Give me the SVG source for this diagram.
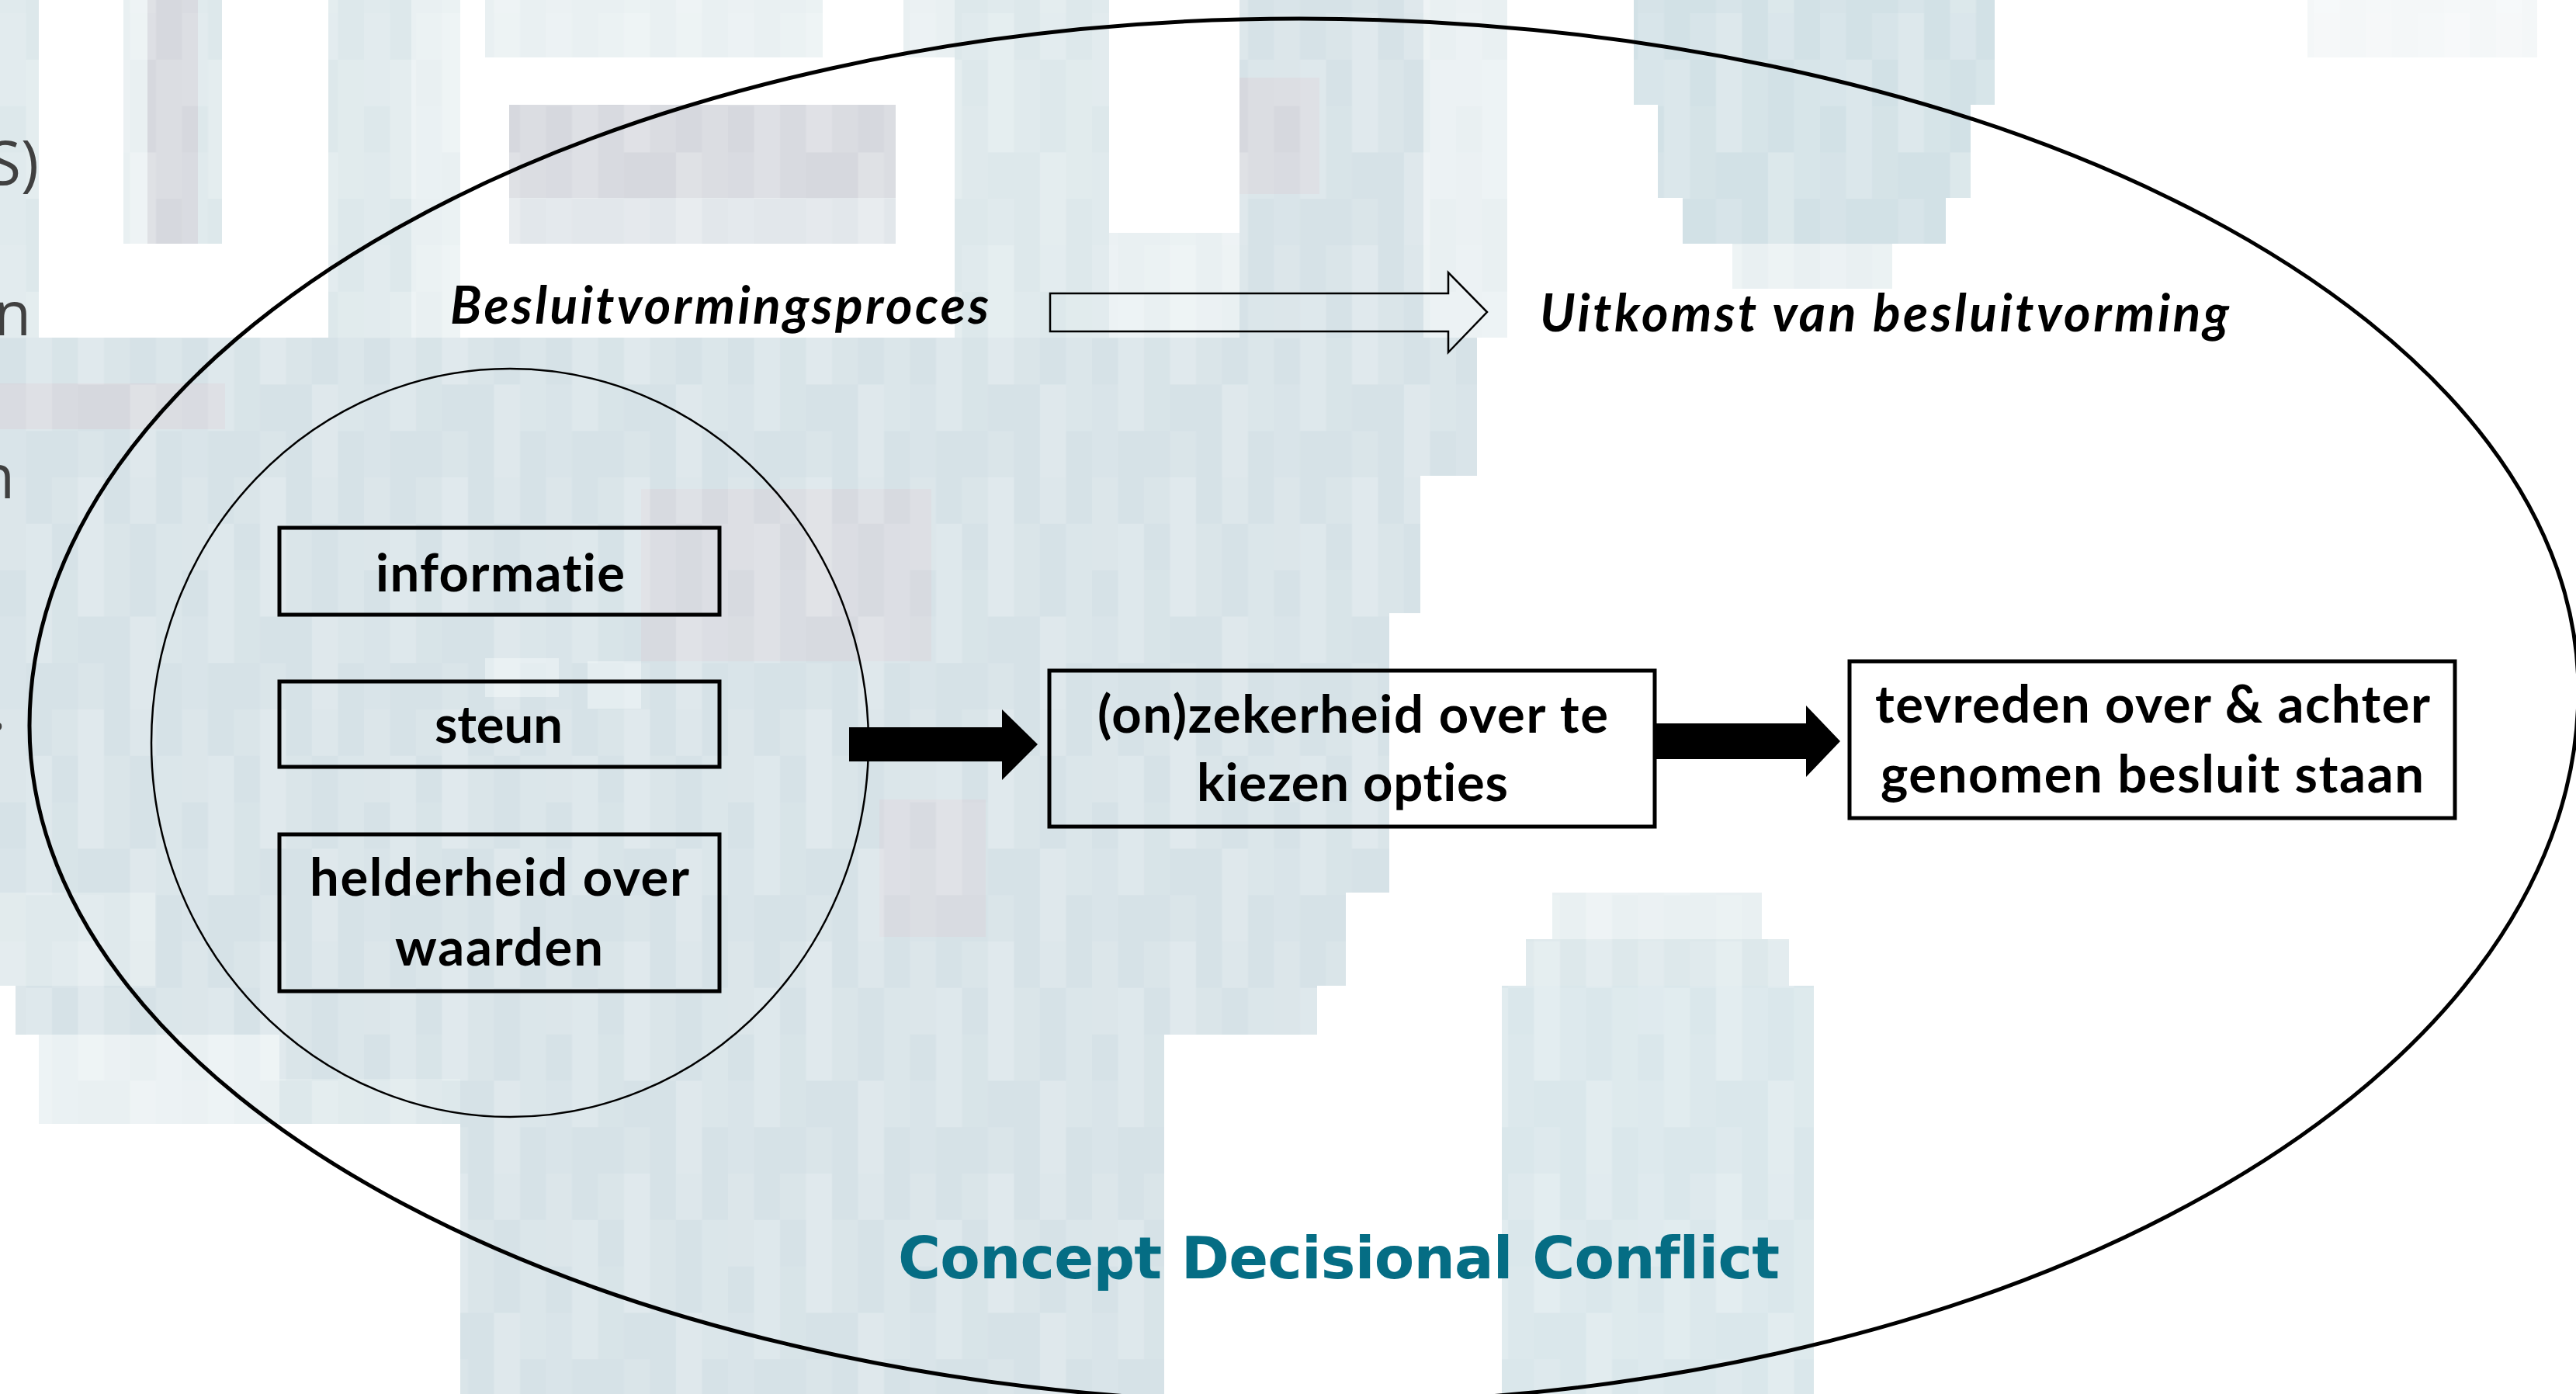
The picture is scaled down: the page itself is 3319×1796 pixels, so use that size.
<svg xmlns="http://www.w3.org/2000/svg" width="3319" height="1796" viewBox="0 0 3319 1796">
  <defs>
    <style>
      .bg-a { fill: #d6e2e7; }
      .bg-b { fill: #dde8eb; }
      .bg-c { fill: #d6d8de; }
      .bg-d { fill: #e9f0f2; }
      .bg-e { fill: #d2e1e6; }
      .frame { fill: none; stroke: #000; stroke-width: 5; }
      .box { fill: none; stroke: #000; stroke-width: 5; }
      .ring { fill: none; stroke: #000; stroke-width: 2.5; }
      .block-arrow { fill: #000; stroke: none; }
      .hollow-arrow { fill: none; stroke: #000; stroke-width: 2.5; stroke-linejoin: miter; }
      text { font-variant-ligatures: none; }
      .lbl { font-family: Lato, "Open Sans", "DejaVu Sans", sans-serif; font-weight: 700; font-size: 67px; fill: #000; }
      .phase { font-family: Lato, "Open Sans", "DejaVu Sans", sans-serif; font-weight: 700; font-style: italic; font-size: 66px; fill: #000; }
      .title { font-family: "DejaVu Sans", Verdana, sans-serif; font-weight: 700; font-size: 75px; fill: #056d84; }
      .frag { font-family: "Open Sans", "Liberation Sans", sans-serif; font-size: 78px; fill: #404040; }
      .m { fill: #fff; }
    </style>
    <!-- column-wise lightening that gives the backdrop its coarse pixel grain -->
    <pattern id="mosaic" patternUnits="userSpaceOnUse" x="0" y="17" width="234.5" height="299">
      <rect class="m" x="0" y="0" width="33.5" height="119.6" fill-opacity="0.14"/>
      <rect class="m" x="0" y="179.4" width="33.5" height="119.6" fill-opacity="0.08"/>
      <rect class="m" x="33.5" y="59.8" width="33.5" height="179.4" fill-opacity="0.2"/>
      <rect class="m" x="67" y="0" width="33.5" height="59.8" fill-opacity="0.1"/>
      <rect class="m" x="67" y="119.6" width="33.5" height="119.6" fill-opacity="0.06"/>
      <rect class="m" x="100.5" y="0" width="33.5" height="179.4" fill-opacity="0.24"/>
      <rect class="m" x="100.5" y="239.2" width="33.5" height="59.8" fill-opacity="0.1"/>
      <rect class="m" x="134" y="59.8" width="33.5" height="119.6" fill-opacity="0.09"/>
      <rect class="m" x="167.5" y="0" width="33.5" height="59.8" fill-opacity="0.18"/>
      <rect class="m" x="167.5" y="179.4" width="33.5" height="119.6" fill-opacity="0.22"/>
      <rect class="m" x="201" y="59.8" width="33.5" height="179.4" fill-opacity="0.12"/>
    </pattern>
  </defs>

  <rect x="0" y="0" width="3319" height="1796" fill="#ffffff"/>

  <!-- pixelated slide backdrop -->
  <g id="backdrop">
    <!-- upper strip -->
    <rect class="bg-b" x="0" y="0" width="50" height="435"/>
    <rect class="bg-d" x="159" y="0" width="31" height="314"/>
    <rect class="bg-c" x="190" y="0" width="65" height="314"/>
    <rect class="bg-b" x="255" y="0" width="31" height="314"/>
    <rect class="bg-b" x="423" y="0" width="107" height="435"/>
    <rect class="bg-d" x="530" y="0" width="63" height="435"/>
    <rect class="bg-d" x="625" y="0" width="435" height="74"/>
    <rect class="bg-c" x="656" y="135" width="498" height="120"/>
    <rect fill="#e2e7eb" x="656" y="255" width="498" height="59"/>
    <rect class="bg-d" x="1164" y="0" width="66" height="74"/>
    <rect class="bg-b" x="1230" y="0" width="199" height="435"/>
    <rect class="bg-d" x="1429" y="300" width="168" height="135"/>
    <rect class="bg-a" x="1597" y="0" width="237" height="435"/>
    <rect class="bg-c" x="1597" y="100" width="103" height="150"/>
    <rect class="bg-d" x="1834" y="0" width="108" height="435"/>
    <rect class="bg-e" x="2105" y="0" width="465" height="135"/>
    <rect class="bg-e" x="2136" y="135" width="403" height="120"/>
    <rect class="bg-e" x="2168" y="255" width="339" height="59"/>
    <rect class="bg-d" x="2232" y="314" width="206" height="58"/>
    <rect fill="#f4f7f8" x="2973" y="0" width="296" height="74"/>

    <!-- middle band -->
    <rect class="bg-a" x="0" y="435" width="1903" height="178"/>
    <rect class="bg-a" x="0" y="613" width="1830" height="177"/>
    <rect class="bg-a" x="0" y="790" width="1790" height="360"/>
    <rect class="bg-a" x="0" y="1150" width="1734" height="120"/>
    <rect class="bg-a" x="20" y="1270" width="1677" height="63"/>
    <rect class="bg-a" x="360" y="1333" width="1140" height="57"/>
    <rect class="bg-d" x="50" y="1333" width="310" height="115"/>
    <rect class="bg-b" x="360" y="1390" width="233" height="58"/>
    <rect class="bg-a" x="593" y="1390" width="907" height="406"/>

    <!-- tonal patches -->
    <rect class="bg-c" x="0" y="494" width="290" height="59"/>
    <rect fill="#d7dae0" x="826" y="630" width="374" height="222"/>
    <rect fill="#d8dbe1" x="1133" y="1030" width="137" height="177"/>
    <rect fill="#e4edf0" x="757" y="852" width="69" height="61"/>
    <rect fill="#e4edf0" x="625" y="848" width="95" height="50"/>
    <rect fill="#dfe9ec" x="0" y="1150" width="200" height="120"/>

    <!-- right figure -->
    <rect class="bg-d" x="2000" y="1150" width="270" height="60"/>
    <rect class="bg-b" x="1966" y="1210" width="339" height="60"/>
    <rect fill="#dae7eb" x="1935" y="1270" width="402" height="526"/>

    <rect x="0" y="0" width="3319" height="1796" fill="url(#mosaic)"/>
  </g>

  <!-- cut-off slide text at the left edge -->
  <g id="edge-text">
    <text class="frag" x="50" y="238" text-anchor="end">S)</text>
    <text class="frag" x="40" y="432" text-anchor="end">n</text>
    <text class="frag" x="19" y="642" text-anchor="end">n</text>
    <text class="frag" x="8" y="940" text-anchor="end">.</text>
  </g>

  <!-- outer scope: decisional conflict -->
  <g id="scope">
    <path class="frame" d="M38 935 A1636 911 0 0 1 1674 24 A1648 866 0 0 1 3322 890 A1632 918 0 0 1 1690 1808 A1652 873 0 0 1 38 935 Z"/>
  </g>

  <!-- process factors grouping -->
  <g id="factors">
    <ellipse class="ring" cx="657" cy="957" rx="462" ry="482"/>
  </g>

  <g id="node-informatie">
    <rect class="box" x="360" y="680" width="567" height="112"/>
    <text class="lbl" x="484" y="762" textLength="321">informatie</text>
  </g>

  <g id="node-steun">
    <rect class="box" x="360" y="878" width="567" height="110"/>
    <text class="lbl" x="560" y="957" textLength="165">steun</text>
  </g>

  <g id="node-waarden">
    <rect class="box" x="360" y="1075" width="567" height="202"/>
    <text class="lbl" x="399" y="1154" textLength="489">helderheid over</text>
    <text class="lbl" x="509" y="1244" textLength="268">waarden</text>
  </g>

  <g id="node-zekerheid">
    <rect class="box" x="1352" y="864" width="780" height="201"/>
    <text class="lbl" x="1414" y="944" textLength="658">(on)zekerheid over te</text>
    <text class="lbl" x="1542" y="1032" textLength="401">kiezen opties</text>
  </g>

  <g id="node-tevreden">
    <rect class="box" x="2383" y="852" width="780" height="202"/>
    <text class="lbl" x="2416" y="931" textLength="715">tevreden over &amp; achter</text>
    <text class="lbl" x="2423" y="1021" textLength="700">genomen besluit staan</text>
  </g>

  <g id="connectors">
    <path class="hollow-arrow" d="M1353 378 H1866 V351 L1916 402 L1866 454 V427 H1353 Z"/>
    <path class="block-arrow" d="M1094 937 H1291 V914 L1337 959 L1291 1005 V981 H1094 Z"/>
    <path class="block-arrow" d="M2132 932 H2327 V909 L2371 955 L2327 1001 V978 H2132 Z"/>
  </g>

  <g id="phase-labels">
    <text class="phase" x="580" y="417" textLength="694">Besluitvormingsproces</text>
    <text class="phase" x="1984" y="427" textLength="888">Uitkomst van besluitvorming</text>
  </g>

  <g id="title">
    <text class="title" x="1157" y="1647" textLength="1136">Concept Decisional Conflict</text>
  </g>
</svg>
